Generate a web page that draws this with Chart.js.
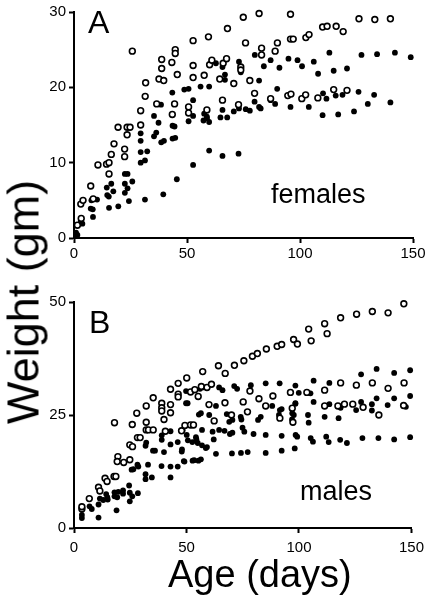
<!DOCTYPE html>
<html>
<head>
<meta charset="utf-8">
<script src="https://cdn.jsdelivr.net/npm/chart.js@4/dist/chart.umd.min.js"></script>
<style>
  body { margin: 0; background: #fff; width: 430px; height: 598px; position: relative; overflow: hidden;
         font-family: "Liberation Sans", Arial, sans-serif; color: #000; }
  canvas { position: absolute; left: 0; }
  #chartA { top: 0; }
  #chartB { top: 290px; }
  .lbl { position: absolute; line-height: 1; white-space: nowrap; }
</style>
</head>
<body>
<canvas id="chartA" width="430" height="270"></canvas>
<canvas id="chartB" width="430" height="270"></canvas>
<div class="lbl" style="left:88px;top:6px;font-size:32px">A</div>
<div class="lbl" style="left:89px;top:306px;font-size:32px">B</div>
<div class="lbl" style="left:271px;top:181px;font-size:27px">females</div>
<div class="lbl" style="left:300px;top:478px;font-size:27px">males</div>
<div class="lbl" style="left:22.5px;top:302px;font-size:45px;transform:translate(-50%,-50%) rotate(-90deg)">Weight (gm)</div>
<div class="lbl" style="left:168px;top:555px;font-size:38px">Age (days)</div>
<script>
// age (days), weight (gm)
const femalesOpen = [
  [1.5,1.7],[3.2,2.6],[3,4.5],[4,5],[7.4,6.9],[8.5,5.2],[10.6,9.7],[14.4,9.8],[15.5,10.0],[16.5,11.1],
  [17.7,12.5],[15.5,8.5],[19.5,14.7],[22.4,11.8],[22.4,10.8],[23.5,13.7],[23.5,14.7],[24.8,14.7],[25.8,24.8],
  [29.5,15.0],[29.5,16.9],[31.5,18.8],[31.7,20.6],[36.6,17.8],[37.6,21.1],[38.8,22.5],[38.8,23.7],[39.7,20.9],
  [43.3,23.3],[43.5,16.4],[44.5,17.8],[44.8,25.0],[44.8,24.5],[45.7,21.7],[50.7,17.4],[50.7,16.6],[52.7,26.2],
  [52.7,22.9],[52.7,21.3],[57.6,21.6],[58.8,17.0],[59.5,26.7],[60,23.0],[61,23.6],[66,23.2],[67.5,23.8],
  [67.9,27.8],[74.9,29.3],[81.9,29.8],[95.8,29.7],[75.9,25.9],[83,25.2],[89,24.8],[90,25.9],[95.8,26.4],
  [97,26.4],[102.6,26.6],[104,27],[110,28],[112,28.1],[116,28.1],[119.1,27.4],[126.1,29.1],[133.1,29],
  [140,29.1],[83,24.3],[73.8,22.7],[73.8,22.3],[64.5,21.1],[70.7,20.5],[77.8,20.9],[65.7,18.3],[72.8,17.7],
  [79.9,19.2],[87,18.5],[94.6,18.9],[96,19.1],[100.8,18.5],[102.5,19.0],[107.9,18.6],[114.9,19.7],[120.8,19.6]
];
const femalesFilled = [
  [0.9,0.7],[1.5,0.4],[3,2.3],[3.7,1.9],[8.4,2.8],[7.4,3.9],[8.3,3.8],[7.7,5.0],[10.2,5.1],[14.5,6.7],
  [14.7,5.7],[15.4,5.5],[16.5,7.2],[17.4,6.2],[15.5,4.0],[19.6,4.2],[22.5,8.5],[23.7,8.5],[22.5,7.2],
  [23.7,6.6],[22.5,6.0],[25.8,7.5],[24.3,4.9],[29.5,13.9],[29.5,12.9],[29.5,11.4],[29.5,10.0],[31.4,10.3],
  [32.4,11.5],[31.4,5.1],[35.4,16.2],[35.4,13.5],[36.4,14.0],[37.4,15.3],[38.5,17.7],[38.6,12.7],[39.8,12.9],
  [39.5,5.8],[43.5,19.3],[43.6,14.9],[44.5,14.8],[43.6,13.2],[44.8,13.3],[45.5,7.8],[48.8,19.7],[50.7,19.8],
  [50.7,15.5],[52.7,16.2],[52.7,18.3],[52.7,9.7],[56,20.1],[57.6,16.5],[58.8,15.9],[59.8,20.1],[59.8,15.4],
  [59.8,11.6],[62.8,23.2],[65.7,22.7],[66.8,21.7],[66.8,21.0],[73,23.4],[73.8,22.0],[80,24.3],[84,22.8],
  [87,23.6],[90.9,22.6],[94.9,23.8],[98.9,23.6],[100.9,22.8],[106.1,23.4],[108,21.8],[113,24.6],[114.9,22.2],
  [120.8,22.5],[127.2,24.3],[134.1,24.4],[142,24.6],[149,24.0],[81.9,20.9],[89.9,19.8],[79.9,18.1],[81.9,17.4],
  [82.6,17.2],[87,18.3],[89,17.8],[95.8,17.4],[103.9,17.4],[110.2,19.2],[111.7,18.5],[115.8,18.9],[118.8,19.0],
  [125.9,19.4],[132.8,19.0],[130,17.8],[140,18.0],[110,16.3],[116.9,16.4],[123.9,16.8],[58.8,16.1],[57.3,15.6],
  [64.8,16.0],[67.8,16.0],[65.7,17.0],[70.7,16.8],[73,17.2],[76,17.1],[77.8,16.9],[65.7,10.9],[72.8,11.2]
];
const malesOpen = [
  [3.5,4.2],[3.5,4.7],[6.8,6.5],[10.9,9.0],[11.5,8.2],[13.8,11.0],[14.7,10.3],[17.8,11.4],[18.6,11.4],[18,23.3],
  [19.5,15.8],[19.2,14.7],[22.1,14.5],[24.8,15.1],[24.8,18.4],[26,18.0],[25.9,22.9],[27.9,25.4],[28.2,20.0],
  [29.4,20.0],[32.1,27.0],[32.1,21.7],[32.1,23.4],[33.1,21.7],[35.2,28.8],[35.2,21.7],[39,27.6],[39,26.6],
  [39,25.9],[40,24.0],[40.6,21.4],[42.9,30.7],[42.9,27.3],[42.9,25.5],[46.3,32.0],[46.3,29.6],[46.3,29.0],
  [47.8,21.5],[49.3,22.7],[50.1,33.2],[51.8,30.1],[51.8,22.8],[53.1,22.8],[53.7,30.6],[55.2,29.1],[57.2,34.6],
  [56.6,31.3],[59.1,31.1],[60,27.3],[61.1,31.8],[62.3,23.7],[67.1,27.7],[70,25.0],[75.2,27.9],[77.1,25.7],
  [78.2,30.3],[82.2,28.6],[85.2,27.0],[88.4,29.2],[91.5,24.3],[96.2,30.0],[97,26.5],[97.3,23.4],[103.5,30.0],
  [111.4,30.5],[111.4,27.0],[117.3,27.0],[118.5,32.1],[120.2,27.4],[123.9,27.4],[125.5,31.6],[128.5,26.7],
  [132.6,32.1],[135.5,25.0],[139.6,30.9],[146.7,32.1],[146.5,27.1],
  [64.2,35.9],[67.2,34.2],[71.3,36.0],[75.5,37.0],[79.3,38.0],[81.5,38.6],[85.5,39.6],[90.3,40.2],[92.3,40.6],
  [97.6,41.7],[99.3,40.7],[104.3,44.0],[105.4,41.4],[111.4,45.2],[112.5,43.0],[118.5,46.5],[125.6,47.3],
  [132.6,47.9],[139.6,47.6],[146.6,49.6]
];
const malesFilled = [
  [3.5,2.2],[3.5,2.9],[6.9,4.8],[7.9,4.2],[10.9,5.2],[10.9,2.3],[11.5,6.5],[13,6.2],[14.3,7.5],[14.8,6.8],
  [15,6.3],[18,7.9],[18,7.0],[18.9,3.9],[19.7,8.0],[19.2,6.8],[21.8,8.3],[21.8,7.6],[24.5,9.4],[24.8,7.8],
  [24.8,5.9],[25.9,7.0],[28.4,7.7],[25.6,12.9],[26.4,13.0],[28.2,14.0],[28.6,13.6],[31.8,10.8],[31.8,11.9],
  [32.9,14.0],[31.8,18.2],[32.1,18.9],[35.1,17.1],[36,17.1],[34.6,11.2],[38.9,13.7],[39,20.5],[39,19.5],
  [40,16.8],[42.9,21.4],[42.9,18.5],[42.9,13.6],[42.9,11.2],[46.1,13.6],[46.1,19.0],[47.9,16.9],[48.8,14.8],
  [49.8,27.6],[49.8,30.3],[50.6,19.4],[52.6,19.0],[54.4,19.6],[52.7,14.9],[55.3,14.9],[55.5,25.1],[56,30.8],
  [56.9,18.3],[58.6,17.7],
  [48.3,21.7],[50.1,20.6],[54.2,20.1],[56.9,21.7],[61.6,21.3],[62.1,19.6],[64.5,21.7],[66.9,21.5],[69.3,20.8],
  [70.4,21.1],[74.9,22.2],[75.7,21.3],[79.8,20.8],[85.2,20.6],[92.3,20.4],[98.5,20.6],
  [48,17.4],[55,18.8],[59.1,17.9],[49.1,14.7],[53.4,15.0],[56.4,15.2],[63.1,16.4],[70.2,16.5],[74.2,16.6],
  [77.2,16.8],[85.2,16.6],[92.3,17.1],[98.1,17.6],
  [50.5,27.6],[57.2,31.1],[59,31.1],[64.5,31.1],[66,30.5],[71.2,31.4],[72.5,30.8],[78.6,31.6],[85.2,32.0],
  [91.4,32.0],[98.4,31.5],
  [56.4,25.4],[60.1,25.0],[63.1,27.0],[67.9,25.2],[69,23.5],[70.4,23.9],[74.4,24.0],[74.1,24.6],[81.8,23.9],
  [83,24.6],[88.1,27.0],[91.5,26.1],[92.3,26.3],[91.1,25.0],[97,26.3],[97,25.4],[98.4,27.6],
  [99.9,29.9],[105.1,29.8],[106.5,27.9],[113.5,27.4],[98.4,27.5],[97.7,25.0],[96.9,24.0],[104,25.0],[104.3,23.3],
  [111.4,24.6],[117.6,24.3],[118.5,26.6],[125.4,26.1],[127.6,27.9],[132.4,27.4],[132.4,26.0],[134.5,28.7],
  [139.4,27.2],[142.3,28.7],[147.5,26.8],[149.4,29.2],
  [106.5,32.6],[113.5,32.1],[127.6,34.0],[134.5,35.2],[142.3,34.3],[149.4,34.9],
  [99.2,20.2],[105.2,19.9],[106.2,19.1],[112.1,20.2],[113.2,19.0],[118.3,19.5],[121.3,18.8],[128.2,19.9],
  [135.3,19.9],[142.3,19.6],[149.4,20.1]
];
const xTicks = [0, 50, 100, 150];
const yTicksA = [0, 10, 20, 30];
const yTicksB = [0, 25, 50];

const toPts = arr => arr.map(p => ({ x: p[0], y: p[1] }));

function openSet(arr) {
  return { data: toPts(arr), pointRadius: 2.9, pointBorderWidth: 1.6, pointBackgroundColor: '#fff',
           pointBorderColor: '#000', clip: false };
}
function filledSet(arr) {
  return { data: toPts(arr), pointRadius: 2.9, pointBorderWidth: 0, pointBackgroundColor: '#000',
           pointBorderColor: '#000', clip: false };
}

function makeChart(id, open, filled, yMax, yStep, xPad) {
  const axisGrid = { display: true, drawOnChartArea: false, drawTicks: true, tickLength: 5,
                     tickWidth: 2, tickColor: '#000', color: '#000' };
  const axisBorder = { display: true, color: '#000', width: 2 };
  const tickFont = { family: '"Liberation Sans", Arial, sans-serif', size: 15 };
  new Chart(document.getElementById(id), {
    type: 'scatter',
    data: { datasets: [openSet(open), filledSet(filled)] },
    options: {
      responsive: false,
      animation: false,
      devicePixelRatio: 1,
      events: [],
      layout: { padding: { left: 0, right: 17, top: 12, bottom: 0 } },
      plugins: { legend: { display: false }, tooltip: { enabled: false } },
      scales: {
        x: {
          type: 'linear', min: 0, max: 150,
          afterBuildTicks: s => { s.ticks = xTicks.map(v => ({ value: v })); },
          afterFit: s => { s.height = 32; },
          ticks: { color: '#000', font: tickFont, padding: xPad, maxRotation: 0 },
          grid: axisGrid, border: axisBorder
        },
        y: {
          type: 'linear', min: 0, max: yMax,
          afterBuildTicks: s => { s.ticks = (yMax === 30 ? yTicksA : yTicksB).map(v => ({ value: v })); },
          afterFit: s => { s.width = 74; },
          ticks: { color: '#000', font: tickFont, padding: 3 },
          grid: axisGrid, border: axisBorder
        }
      }
    }
  });
}

makeChart('chartA', femalesOpen, femalesFilled, 30, 10, 2);
makeChart('chartB', malesOpen, malesFilled, 50, 25, 6);
</script>
</body>
</html>
